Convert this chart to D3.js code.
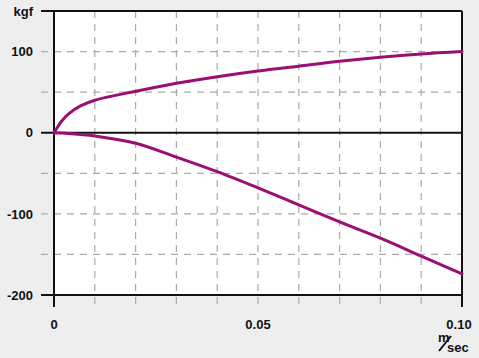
<!DOCTYPE html>
<html>
<head>
<meta charset="utf-8">
<script src="https://cdn.jsdelivr.net/npm/d3@7"></script>
<style>
  body { margin: 0; background: #eeeeee; }
  svg { display: block; font-family: "Liberation Sans", Arial, sans-serif; }
  .lbl { font-size: 13px; font-weight: bold; fill: #111; }
</style>
</head>
<body>
<svg id="chart" width="479" height="358"></svg>
<script>
// speed (m/sec)
var speed = [0, 0.001, 0.002, 0.0035, 0.0065, 0.01, 0.02, 0.03, 0.04, 0.05, 0.06, 0.07, 0.08, 0.09, 0.10];
// force (kgf), upper and lower curve
var upperForce = [0, 8, 15, 23, 33, 40, 51, 61, 69, 76, 82, 88, 93, 97, 100];
var lowerForce = [0, -0.2, -0.5, -1, -2.2, -4, -13, -30, -48, -68, -89, -110, -130, -152, -174];

var yTicks = [150, 100, 50, 0, -50, -100, -150, -200];
var yLabels = { "100": "100", "0": "0", "-100": "-100", "-200": "-200" };
var xTicks = [0, 0.01, 0.02, 0.03, 0.04, 0.05, 0.06, 0.07, 0.08, 0.09, 0.10];
var xLabels = { "0": "0", "0.05": "0.05", "0.1": "0.10" };

var svg = d3.select("#chart"),
	margin = {top: 11, right: 17, bottom: 63, left: 54},
	width = +svg.attr("width") - margin.left - margin.right,
	height = +svg.attr("height") - margin.top - margin.bottom,
	g = svg.append("g").attr("transform", "translate(" + margin.left + "," + margin.top + ")");

var x = d3.scaleLinear().domain([0, 0.10]).range([0, width]);
var y = d3.scaleLinear().domain([-200, 150]).range([height, 0]);

var purple = "#990f72";

// plot background
g.append("rect")
	.attr("width", width)
	.attr("height", height)
	.attr("fill", "#fff");

// horizontal dashed grid (the 0 / -200 / 150 ones are solid below)
g.selectAll(".hgrid")
	.data(yTicks.filter(function (d) { return d !== 0 && d !== -200 && d !== 150; }))
	.enter().append("line")
	.attr("x1", -13).attr("x2", width)
	.attr("y1", function (d) { return y(d); })
	.attr("y2", function (d) { return y(d); })
	.attr("stroke", "#aaa")
	.attr("stroke-width", 1.2)
	.attr("stroke-dasharray", "7,6");

// vertical dashed grid
g.selectAll(".vgrid")
	.data(xTicks.slice(1, -1))
	.enter().append("line")
	.attr("x1", function (d) { return x(d); })
	.attr("x2", function (d) { return x(d); })
	.attr("y1", 0).attr("y2", height + 12)
	.attr("stroke", "#aaa")
	.attr("stroke-width", 1.2)
	.attr("stroke-dasharray", "7,6");

// solid frame lines
var solid = [
	[-13, y(150), width, y(150)],
	[-13, y(0), width, y(0)],
	[-13, y(-200), width, y(-200)],
	[0, 0, 0, height + 12],
	[width, 0, width, height + 12]
];
g.selectAll(".frame")
	.data(solid)
	.enter().append("line")
	.attr("x1", function (d) { return d[0]; })
	.attr("y1", function (d) { return d[1]; })
	.attr("x2", function (d) { return d[2]; })
	.attr("y2", function (d) { return d[3]; })
	.attr("stroke", "#111")
	.attr("stroke-width", 2);

// curves
var line = d3.line()
	.x(function (d) { return x(d[0]); })
	.y(function (d) { return y(d[1]); })
	.curve(d3.curveCatmullRom.alpha(0.5));

[upperForce, lowerForce].forEach(function (vals) {
	g.append("path")
		.datum(speed.map(function (s, i) { return [s, vals[i]]; }))
		.attr("fill", "none")
		.attr("stroke", purple)
		.attr("stroke-width", 3)
		.attr("stroke-linejoin", "round")
		.attr("stroke-linecap", "round")
		.attr("d", line);
});

// y labels
g.selectAll(".ylbl")
	.data(Object.keys(yLabels))
	.enter().append("text")
	.attr("class", "lbl")
	.attr("x", -21)
	.attr("y", function (d) { return y(+d); })
	.attr("dy", "0.36em")
	.attr("text-anchor", "end")
	.text(function (d) { return yLabels[d]; });

g.append("text")
	.attr("class", "lbl")
	.attr("x", -21)
	.attr("y", y(150))
	.attr("dy", "0.36em")
	.attr("text-anchor", "end")
	.text("kgf");

// x labels
g.selectAll(".xlbl")
	.data(Object.keys(xLabels))
	.enter().append("text")
	.attr("class", "lbl")
	.attr("x", function (d) { return x(+d) - (d === "0.1" ? 3 : 0); })
	.attr("y", height + 34)
	.attr("text-anchor", "middle")
	.text(function (d) { return xLabels[d]; });

// unit m/sec : small "m", a slash, then "sec"
var ux = width - 16, uy = height + 57;
g.append("text")
	.attr("class", "lbl")
	.attr("font-size", "11px")
	.attr("x", ux - 8)
	.attr("y", uy - 10)
	.text("m");
g.append("line")
	.attr("x1", ux - 7).attr("y1", uy - 1)
	.attr("x2", ux + 5).attr("y2", uy - 16)
	.attr("stroke", "#111")
	.attr("stroke-width", 2);
g.append("text")
	.attr("class", "lbl")
	.attr("x", ux + 1)
	.attr("y", uy)
	.text("sec");
</script>
</body>
</html>
